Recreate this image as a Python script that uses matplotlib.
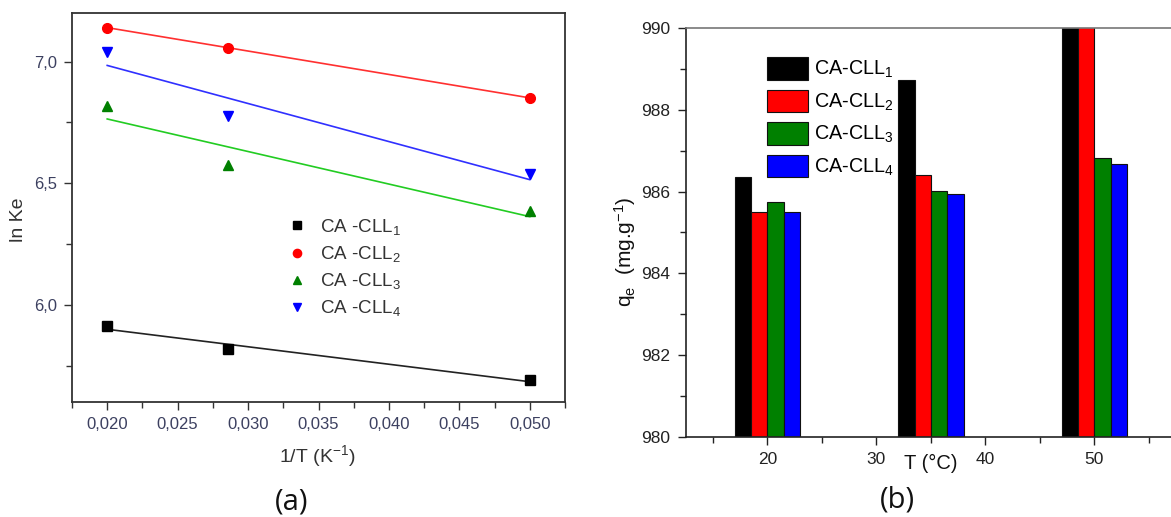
import numpy as np
import matplotlib
matplotlib.use("Agg")
import matplotlib.pyplot as plt
from matplotlib.ticker import MultipleLocator, FuncFormatter
from matplotlib.transforms import blended_transform_factory
from matplotlib.patches import Patch

plt.rcParams['font.family'] = ['Liberation Sans', 'DejaVu Sans']
plt.rcParams['mathtext.fontset'] = 'custom'
plt.rcParams['mathtext.rm'] = 'Liberation Sans'
plt.rcParams['mathtext.it'] = 'Liberation Sans:italic'

# ---------------- data ----------------
series = ['CA-CLL1', 'CA-CLL2', 'CA-CLL3', 'CA-CLL4']
inv_T = [0.020, 0.02857, 0.050]
lnKe_1 = [5.913, 5.818, 5.689]
lnKe_2 = [7.140, 7.057, 6.851]
lnKe_3 = [6.818, 6.574, 6.384]
lnKe_4 = [7.038, 6.775, 6.536]

temps = [20, 35, 50]
temp_ticks = [20, 30, 40, 50]
qe_1 = [986.35, 988.73, 990.8]
qe_2 = [985.50, 986.40, 990.6]
qe_3 = [985.75, 986.01, 986.81]
qe_4 = [985.51, 985.93, 986.67]

W, H = 1171, 517
fig = plt.figure(figsize=(W / 100, H / 100), dpi=100)

def box(l, r, t, b):
    return [l / W, (H - b) / H, (r - l) / W, (b - t) / H]

# ---------------- panel (a) ----------------
axa = fig.add_axes(box(72, 565, 13, 402))
tick_col = '#3c4060'
mcols = ['black', '#ff0000', '#008000', '#0000ff']
lcols = ['#222222', '#ff3030', '#22cc22', '#3030ff']
markers = ['s', 'o', '^', 'v']
msizes = [6.5, 7, 7.5, 7.5]
labels_sub = [r'CA -CLL$_{\mathregular{%d}}$' % (i + 1) for i in range(4)]
x = np.array(inv_T)
for ys, mc, lc, mk, ms, lab in zip([lnKe_1, lnKe_2, lnKe_3, lnKe_4], mcols, lcols,
                                    markers, msizes, labels_sub):
    ys = np.array(ys)
    p = np.polyfit(x, ys, 1)
    xf = np.array([x.min(), x.max()])
    axa.plot(xf, np.polyval(p, xf), color=lc, lw=1.2, zorder=2)
    axa.plot(x, ys, ls='none', marker=mk, ms=ms, color=mc, mec=mc, zorder=3, label=lab)

axa.set_xlim(0.0175, 0.0525)
axa.set_ylim(5.6, 7.2)
axa.xaxis.set_major_locator(MultipleLocator(0.005))
axa.xaxis.set_minor_locator(MultipleLocator(0.0025))
axa.yaxis.set_major_locator(MultipleLocator(0.5))
axa.yaxis.set_minor_locator(MultipleLocator(0.25))
axa.xaxis.set_major_formatter(FuncFormatter(lambda v, p: ('%.3f' % v).replace('.', ',')))
axa.yaxis.set_major_formatter(FuncFormatter(lambda v, p: ('%.1f' % v).replace('.', ',')))
axa.tick_params(which='both', direction='out', colors='#333333', labelcolor=tick_col,
                labelsize=12, width=1.0)
axa.tick_params(which='major', length=6, pad=5)
axa.tick_params(which='minor', length=4)
for s in axa.spines.values():
    s.set_color('#333333')
    s.set_linewidth(1.3)
axa.set_ylabel('ln Ke', fontsize=14, color='#333333')
axa.yaxis.set_label_coords(-0.092, 0.468)
axa.set_xlabel('1/T (K$^{\\mathregular{-1}}$)', fontsize=14, color='#333333')
axa.xaxis.set_label_coords(0.497, -0.105)

lega = axa.legend(loc='upper left', bbox_to_anchor=((289 - 72) / 493, (402 - 217) / 389),
                  frameon=False, fontsize=13.5, handlelength=0.9, handletextpad=0.75,
                  labelspacing=0.38, borderpad=0, borderaxespad=0, numpoints=1,
                  markerscale=0.85)
for t in lega.get_texts():
    t.set_color('#333333')

# ---------------- panel (b) ----------------
axb = fig.add_axes(box(685.7, 1176, 28, 437))
bcols = ['black', '#ff0000', '#008000', '#0000ff']
bw = 1.5
offs = [-2.25, -0.75, 0.75, 2.25]
tx = np.array(temps, dtype=float)
handles = []
for vals, c, o, i in zip([qe_1, qe_2, qe_3, qe_4], bcols, offs, range(4)):
    base = 980
    axb.bar(tx + o, np.array(vals) - base, bottom=base, width=bw, color=c,
            edgecolor='#111111', linewidth=0.8, zorder=2)
    handles.append(Patch(facecolor=c, edgecolor='#111111', linewidth=0.8,
                         label=r'CA-CLL$_{\mathregular{%d}}$' % (i + 1)))

axb.set_xlim(12.5, 57.5)
axb.set_ylim(980, 990)
axb.set_xticks(temp_ticks)
axb.xaxis.set_minor_locator(MultipleLocator(5))
axb.yaxis.set_major_locator(MultipleLocator(2))
axb.yaxis.set_minor_locator(MultipleLocator(1))
axb.tick_params(which='both', direction='out', colors='#222222', labelsize=12.5, width=1.0)
axb.tick_params(which='major', length=6, pad=5)
axb.tick_params(which='minor', length=4)
for s in axb.spines.values():
    s.set_color('#222222')
    s.set_linewidth(1.2)
axb.spines['top'].set_color('#777777')
axb.set_ylabel('q$_{\\mathregular{e}}$  (mg.g$^{\\mathregular{-1}}$)', fontsize=15, color='#111111')
axb.yaxis.set_label_coords(-0.098, 0.452)
trb = blended_transform_factory(axb.transData, axb.transAxes)
axb.text(35, -0.064, 'T (°C)', transform=trb, ha='center', va='center', fontsize=14.5,
         color='#111111')

legb = axb.legend(handles=handles, loc='upper left',
                  bbox_to_anchor=((767 - 685.7) / 490.3, (437 - 57) / 409),
                  frameon=False, fontsize=14.2, handlelength=2.1, handleheight=1.4,
                  handletextpad=0.3, labelspacing=0.47, borderpad=0, borderaxespad=0)

# ---------------- panel labels ----------------
fig.text(292 / W, 1 - 502 / H, '(a)', fontsize=21, family=['Open Sans', 'DejaVu Sans'],
         ha='center', va='center', color='#111111')
fig.text(897 / W, 1 - 500 / H, '(b)', fontsize=21, family=['Open Sans', 'DejaVu Sans'],
         ha='center', va='center', color='#111111')

fig.savefig('out.png', dpi=100)
